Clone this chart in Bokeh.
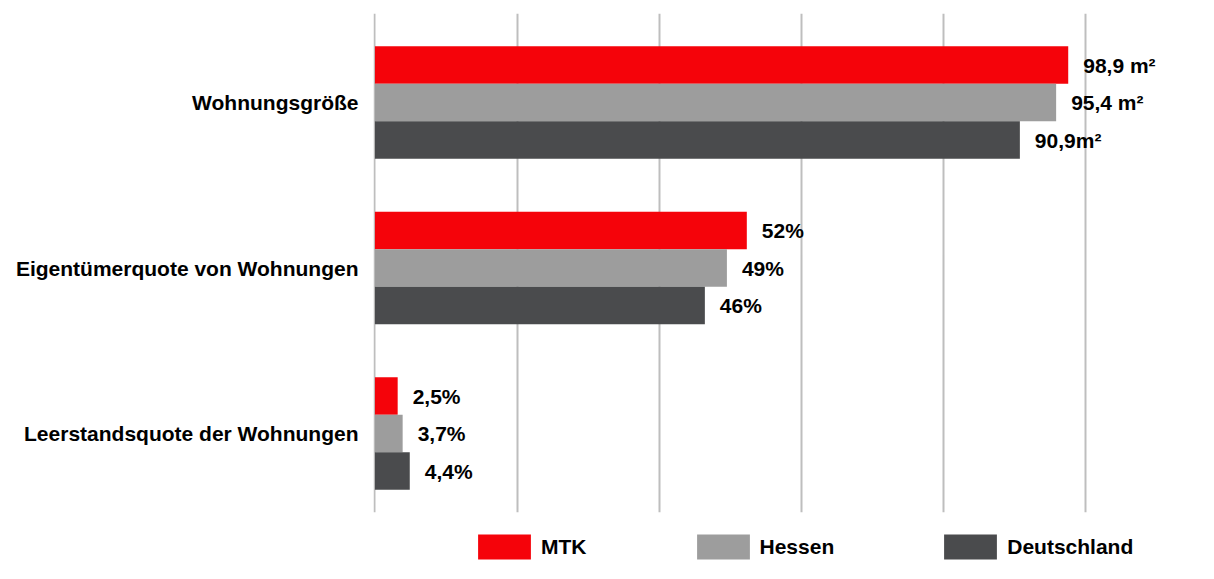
from bokeh.plotting import figure
from bokeh.layouts import column
from bokeh.models import ColumnDataSource, FixedTicker, Range1d, Legend, LegendItem
from bokeh.core.properties import value
from bokeh.transform import dodge
from bokeh.embed import file_html
from bokeh.resources import INLINE

# ---- data ----
categories = ["Wohnungsgröße", "Eigentümerquote von Wohnungen", "Leerstandsquote der Wohnungen"]
series = ["MTK", "Hessen", "Deutschland"]
mtk = [97.5, 52.3, 3.2]
hessen = [95.8, 49.5, 3.9]
deutschland = [90.7, 46.4, 4.9]
mtk_labels = ["98,9 m²", "52%", "2,5%"]
hessen_labels = ["95,4 m²", "49%", "3,7%"]
deutschland_labels = ["90,9m²", "46%", "4,4%"]
grid_ticks = [0, 20, 40, 60, 80, 100]

# ---- styles ----
colors = ["#F5030A", "#9D9D9D", "#4A4B4D"]
FONT = value("Liberation Sans")
bar_h = 0.2266
offsets = [bar_h, 0.0, -bar_h]

ypos = [len(categories) - 1 - i for i in range(len(categories))]

p = figure(width=1190, height=523, output_backend="svg", toolbar_location=None,
           x_range=Range1d(-0.2, 113.29), y_range=Range1d(-0.477, 2.538),
           x_axis_location=None, y_axis_location="left",
           min_border_left=373, min_border_right=10, min_border_top=13, min_border_bottom=11)
p.outline_line_color = None
p.background_fill_color = "white"
p.border_fill_color = "white"
p.ygrid.visible = False
p.xgrid.ticker = FixedTicker(ticks=grid_ticks)
p.xgrid.grid_line_color = "#BEBEBE"
p.xgrid.grid_line_width = 2

yax = p.yaxis[0]
yax.ticker = FixedTicker(ticks=ypos)
yax.major_label_overrides = {y: c for y, c in zip(ypos, categories)}
yax.axis_line_color = None
yax.major_tick_line_color = None
yax.minor_tick_line_color = None
yax.major_tick_out = 0
yax.major_tick_in = 0
yax.major_label_standoff = 15
yax.major_label_text_font = "Liberation Sans"
yax.major_label_text_font_style = "bold"
yax.major_label_text_font_size = "21px"
yax.major_label_text_color = "black"

# legend strip (separate figure below the chart)
pl = figure(width=1190, height=40, output_backend="svg", toolbar_location=None,
            x_range=Range1d(-0.2, 113.29), y_range=Range1d(100, 101),
            x_axis_location=None, y_axis_location=None,
            min_border_left=0, min_border_right=0, min_border_top=0, min_border_bottom=0)
pl.outline_line_color = None
pl.xgrid.visible = False
pl.ygrid.visible = False
pl.background_fill_color = "white"
pl.border_fill_color = "white"

items = []
for j, (name, vals, labs) in enumerate(zip(series, [mtk, hessen, deutschland],
                                          [mtk_labels, hessen_labels, deutschland_labels])):
    src = ColumnDataSource(dict(y=ypos, x=vals, label=labs))
    p.hbar(y=dodge("y", offsets[j]), left=0, right="x", height=bar_h,
           fill_color=colors[j], line_color=None, source=src)
    p.text(x="x", y=dodge("y", offsets[j]), text="label", source=src,
           x_offset=15, text_baseline="middle", text_align="left",
           text_font=FONT, text_font_style="bold", text_font_size="21px",
           text_color="black")
    # same series in the legend strip (outside its visible y range)
    rl = pl.hbar(y="y", left=0, right="x", height=bar_h,
                 fill_color=colors[j], line_color=None, source=src)
    items.append(LegendItem(label=name, renderers=[rl]))

legend = Legend(items=items, location=(98, 1), orientation="horizontal",
                glyph_width=66, glyph_height=31, label_standoff=4, spacing=103,
                padding=0, margin=0, border_line_color=None, background_fill_alpha=0,
                label_text_font="Liberation Sans", label_text_font_style="bold",
                label_text_font_size="21px", label_text_color="black")
pl.add_layout(legend)

layout = column(p, pl, spacing=0)
open("out.html", "w").write(file_html(layout, INLINE))
